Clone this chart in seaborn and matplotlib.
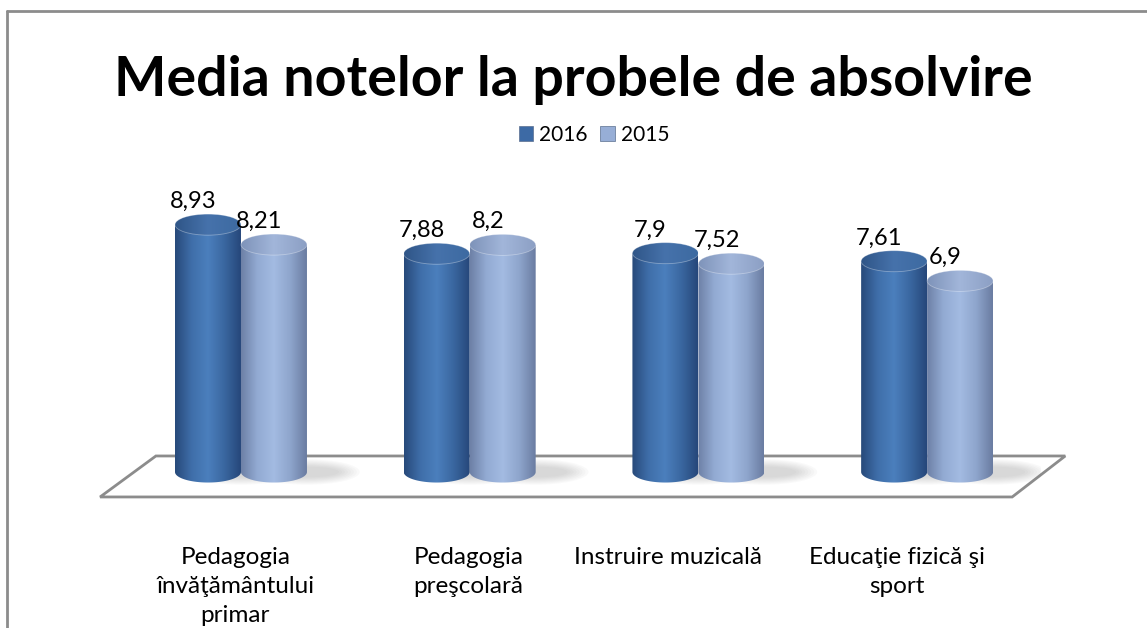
import numpy as np
import pandas as pd
import seaborn as sns
import matplotlib.pyplot as plt
import matplotlib.transforms as mtransforms
from matplotlib.patches import Polygon, Ellipse, Patch
from matplotlib.colors import LinearSegmentedColormap

# date
categorii = ['Pedagogia\nînvăţământului\nprimar', 'Pedagogia\npreşcolară',
             'Instruire muzicală', 'Educaţie fizică şi\nsport']
ani = ['2016', '2015']
medii_2016 = [8.93, 7.88, 7.90, 7.61]
medii_2015 = [8.21, 8.20, 7.52, 6.90]
etichete_2016 = ['8,93', '7,88', '7,9', '7,61']
etichete_2015 = ['8,21', '8,2', '7,52', '6,9']

df = pd.DataFrame({
    'categorie': categorii * 2,
    'an': [ani[0]] * 4 + [ani[1]] * 4,
    'medie': medii_2016 + medii_2015,
})

sns.set_theme(style='white')
plt.rcParams['font.family'] = ['Lato', 'DejaVu Sans']
plt.rcParams['text.color'] = 'black'

# culori cilindri: margine, centru, margine
culori_corp = {
    '2016': ['#27497a', '#3f6ea9', '#4b7fbd', '#3a67a0', '#26477a'],
    '2015': ['#6d80a6', '#93abd3', '#a3bbe2', '#8ea5cc', '#6a7ca1'],
}
culori_capac = {
    '2016': ['#2f5587', '#4672ab', '#3d6aa1'],
    '2015': ['#7e93b9', '#a2b6da', '#8c9fc4'],
}
culori_legenda = {'2016': '#3d6aa5', '2015': '#97aed6'}

fig = plt.figure(figsize=(11.47, 6.28), dpi=100)
ax = fig.add_axes([0.1104, 0.2043, 0.7976, 0.4852])

sns.barplot(data=df, x='categorie', y='medie', hue='an', hue_order=ani,
            palette=culori_legenda, width=0.577, ax=ax, legend=False,
            saturation=1)

ax.set_xlim(-0.5, 3.5)
ax.set_ylim(-1, 10)
elips = 0.76  # inaltimea elipsei in unitati de date

# podeaua 3D
podea = Polygon([(-0.029, 0.009), (0.968, 0.009), (1.026, 0.1435), (0.032, 0.1435)],
                closed=True, transform=ax.transAxes, facecolor='white',
                edgecolor='#8c8c8c', lw=2, zorder=0.5, clip_on=False)
ax.add_patch(podea)

etichete = {'2016': etichete_2016, '2015': etichete_2015}
for cont, an in zip(ax.containers, ani):
    cmap = LinearSegmentedColormap.from_list('c' + an, culori_corp[an])
    cmap_top = LinearSegmentedColormap.from_list('t' + an, culori_capac[an])
    for bar, txt in zip(cont, etichete[an]):
        x0, w, h = bar.get_x(), bar.get_width(), bar.get_height()
        cx = x0 + w / 2
        bar.set_visible(False)

        # umbra
        for k in range(8):
            umbra = Ellipse((cx + w * 0.5, 0.0), w * (1.6 - k * 0.09),
                            elips * (1.2 - k * 0.1), facecolor='#7a7a7a',
                            alpha=0.04, lw=0, zorder=1)
            ax.add_patch(umbra)

        # corpul cilindrului
        t = np.linspace(np.pi, 2 * np.pi, 60)
        arc = np.column_stack([cx + w / 2 * np.cos(t), elips / 2 * np.sin(t)])
        pts = np.vstack([[x0, h], arc, [x0 + w, h]])
        corp = Polygon(pts, closed=True, facecolor='none', lw=0)
        ax.add_patch(corp)
        grad = np.linspace(0, 1, 256).reshape(1, -1)
        im = ax.imshow(grad, cmap=cmap, aspect='auto',
                       extent=(x0, x0 + w, -elips / 2, h), zorder=2,
                       interpolation='bicubic')
        im.set_clip_path(corp)

        # capacul
        capac = Ellipse((cx, h), w, elips, facecolor='none', lw=0)
        ax.add_patch(capac)
        im2 = ax.imshow(grad, cmap=cmap_top, aspect='auto',
                        extent=(x0, x0 + w, h - elips / 2, h + elips / 2),
                        zorder=3, interpolation='bicubic')
        im2.set_clip_path(capac)
        ax.add_patch(Ellipse((cx, h), w, elips, facecolor='none',
                             edgecolor='#ffffff', lw=0.6, alpha=0.35, zorder=4))

        ax.text(cx - 0.065, h + elips / 2 + 0.08, txt, ha='center', va='bottom',
                fontsize=17, color='black', zorder=5)

ax.set_xlim(-0.5, 3.5)
ax.set_ylim(-1, 10)
ax.set_xlabel('')
ax.set_ylabel('')
ax.set_yticks([])
ax.set_xticks(range(4))
ax.set_xticklabels(categorii, linespacing=1.48, fontsize=17.5, color='black')
ax.tick_params(axis='x', length=0, pad=34)
# deplasarea etichetelor ca in original (puncte)
deplasari = [-4, -1, -22, -22]
for lbl, dx in zip(ax.get_xticklabels(), deplasari):
    lbl.set_transform(lbl.get_transform() +
                      mtransforms.ScaledTranslation(dx / 72, 0, fig.dpi_scale_trans))
sns.despine(ax=ax, left=True, bottom=True)
ax.patch.set_alpha(0)

fig.text(0.5, 0.873, 'Media notelor la probele de absolvire', ha='center',
         va='center', fontsize=40, fontweight='bold', color='black')

handles = [Patch(facecolor=culori_legenda[a], edgecolor='#5a6f8f', lw=0.5) for a in ani]
fig.legend(handles, ani, loc='center', bbox_to_anchor=(0.518, 0.785), ncol=2,
           frameon=False, fontsize=15, handlelength=0.7, handleheight=0.7,
           handletextpad=0.3, columnspacing=0.6)

# chenar
fig.add_artist(plt.Line2D([0.0065, 0.0065], [0.0, 0.983], transform=fig.transFigure,
                          color='#8c8c8c', lw=2))
fig.add_artist(plt.Line2D([0.0065, 1.0], [0.983, 0.983], transform=fig.transFigure,
                          color='#8c8c8c', lw=2))

fig.savefig('out.png', dpi=100, facecolor='white')
